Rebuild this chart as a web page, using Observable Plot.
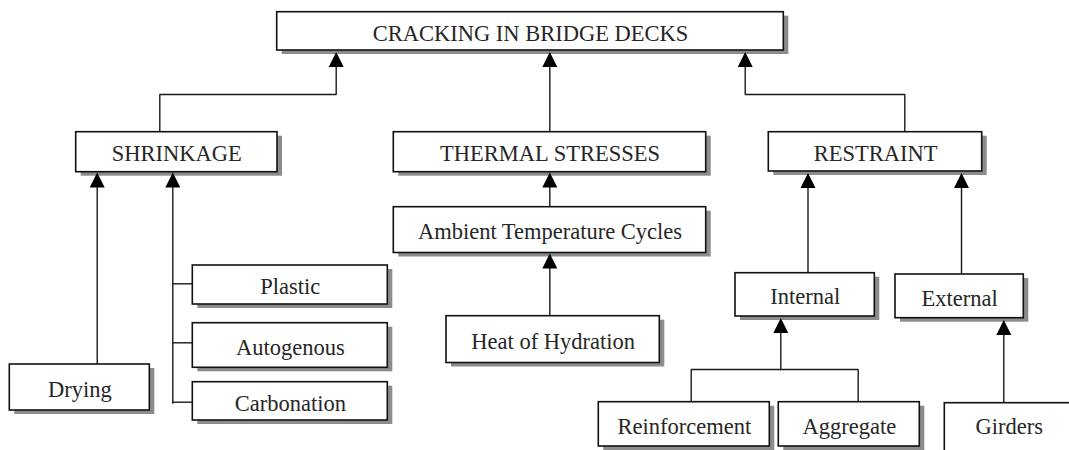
<!DOCTYPE html>
<html>
<head>
<meta charset="utf-8">
<script src="https://cdn.jsdelivr.net/npm/d3@7"></script>
<script src="https://cdn.jsdelivr.net/npm/@observablehq/plot@0.6"></script>
<style>
  html, body { margin: 0; padding: 0; background: #fff; overflow: hidden; }
  #chart svg { display: block; }
</style>
</head>
<body>
<div id="chart"></div>
<script>
// ---- Node labels ----
const labels = [
  "CRACKING IN BRIDGE DECKS",
  "SHRINKAGE", "THERMAL STRESSES", "RESTRAINT",
  "Ambient Temperature Cycles",
  "Drying", "Plastic", "Autogenous", "Carbonation",
  "Heat of Hydration",
  "Internal", "External",
  "Reinforcement", "Aggregate", "Girders"
];
// ---- Node layout (diagram coordinates, px-like units) ----
const boxLeft   = [276.7,  75.7, 393.3, 768.3, 393.3,   9.3, 192.3, 192.3, 192.3, 446.0, 735.0, 895.0, 598.3, 778.3, 944.3];
const boxRight  = [783.3, 277.0, 705.7, 981.7, 705.7, 149.3, 387.3, 387.3, 387.3, 659.3, 874.3, 1023.3, 769.3, 919.3, 1073.0];
const boxTop    = [ 11.7, 131.7, 131.7, 131.7, 206.7, 364.0, 265.0, 322.7, 381.7, 315.7, 272.7, 274.0, 401.7, 401.7, 402.7];
const boxBottom = [ 50.0, 171.7, 171.7, 171.0, 252.5, 410.0, 304.0, 367.3, 420.0, 362.5, 316.0, 317.7, 446.0, 446.0, 470.0];
// label centre line (Girders box runs off the bottom edge, its label sits with its row)
const labelY    = [ 30.9, 151.7, 151.7, 151.4, 229.6, 387.0, 284.5, 345.0, 400.9, 339.1, 294.4, 295.9, 423.9, 423.9, 424.5];

// ---- Connector polylines (id, x, y) ----
const connId = [
  1,1,1,1, 2,2, 3,3,3,3, 4,4, 5,5, 6,6, 7,7, 8,8, 9,9, 10,10,10,10, 11,11, 12,12, 13,13, 14,14, 15,15
];
const connX = [
  159.3,159.3,335.7,335.7,  549.3,549.3,  904.3,904.3,744.7,744.7,
  96.7,96.7,  172.3,172.3,  549.3,549.3,  549.3,549.3,
  807.5,807.5,  961.0,961.0,
  690.7,690.7,857.7,857.7,  780.3,780.3,  1003.3,1003.3,
  172.3,192.3,  172.3,192.3,  172.3,192.3
];
const connY = [
  131.7,94,94,62,  131.7,62,  131.7,94,94,62,
  364,182,  402.5,182,  206.7,182,  315.7,262,
  272.7,182,  274,182,
  401.7,369,369,401.7,  369,330,  402.7,332,
  283.3,283.3,  342.3,342.3,  401.7,401.7
];

// ---- Arrowheads (tip positions) ----
const arrowX   = [335.7, 549.3, 744.7,  96.7, 172.3, 549.3, 549.3, 807.5, 961.0, 780.3, 1003.3];
const arrowTip = [ 51.5,  51.5,  51.5, 172.0, 172.0, 172.0, 253.0, 172.5, 172.5, 317.5,  319.5];

// ---- Build tables ----
const boxes = labels.map((label, i) => ({
  label, x1: boxLeft[i], x2: boxRight[i], y1: boxTop[i], y2: boxBottom[i],
  cx: (boxLeft[i] + Math.min(boxRight[i], i === labels.length - 1 ? 1073 : boxRight[i])) / 2,
  cy: labelY[i]
}));
const conns = connId.map((id, i) => ({id, x: connX[i], y: connY[i]}));
const arrows = arrowX.map((x, i) => ({x, y: arrowTip[i]}));

// Upward-pointing filled triangle with its tip at the anchor point
const tipTriangle = {
  draw(context) {
    context.moveTo(0, 0);
    context.lineTo(-7.5, 15);
    context.lineTo(7.5, 15);
    context.closePath();
  }
};

const chart = Plot.plot({
  width: 1069,
  height: 450,
  margin: 0,
  style: {background: "#ffffff"},
  x: {domain: [0, 1069], range: [0, 1069], axis: null},
  y: {domain: [0, 450], range: [0, 450], axis: null},
  marks: [
    // connectors
    Plot.line(conns, {x: "x", y: "y", z: "id", stroke: "#1a1a1a", strokeWidth: 1.4, strokeLinejoin: "miter", strokeLinecap: "square", curve: "linear"}),
    // shadows
    Plot.rect(boxes, {x1: "x1", x2: "x2", y1: "y1", y2: "y2", fill: "#8c8c8c", dx: 5, dy: 4, inset: 0}),
    // boxes
    Plot.rect(boxes, {x1: "x1", x2: "x2", y1: "y1", y2: "y2", fill: "#ffffff", stroke: "#111111", strokeWidth: 1.6, inset: 0}),
    // labels
    Plot.text(boxes, {x: "cx", y: "cy", text: "label", fontFamily: "Liberation Serif, Times New Roman, serif", fontSize: 22.5, fill: "#262626", textAnchor: "middle", lineAnchor: "middle", dy: 2}),
    // arrowheads
    Plot.dot(arrows, {x: "x", y: "y", symbol: tipTriangle, r: 5, fill: "#000000", stroke: "none"})
  ]
});
document.getElementById("chart").appendChild(chart);
</script>
</body>
</html>
